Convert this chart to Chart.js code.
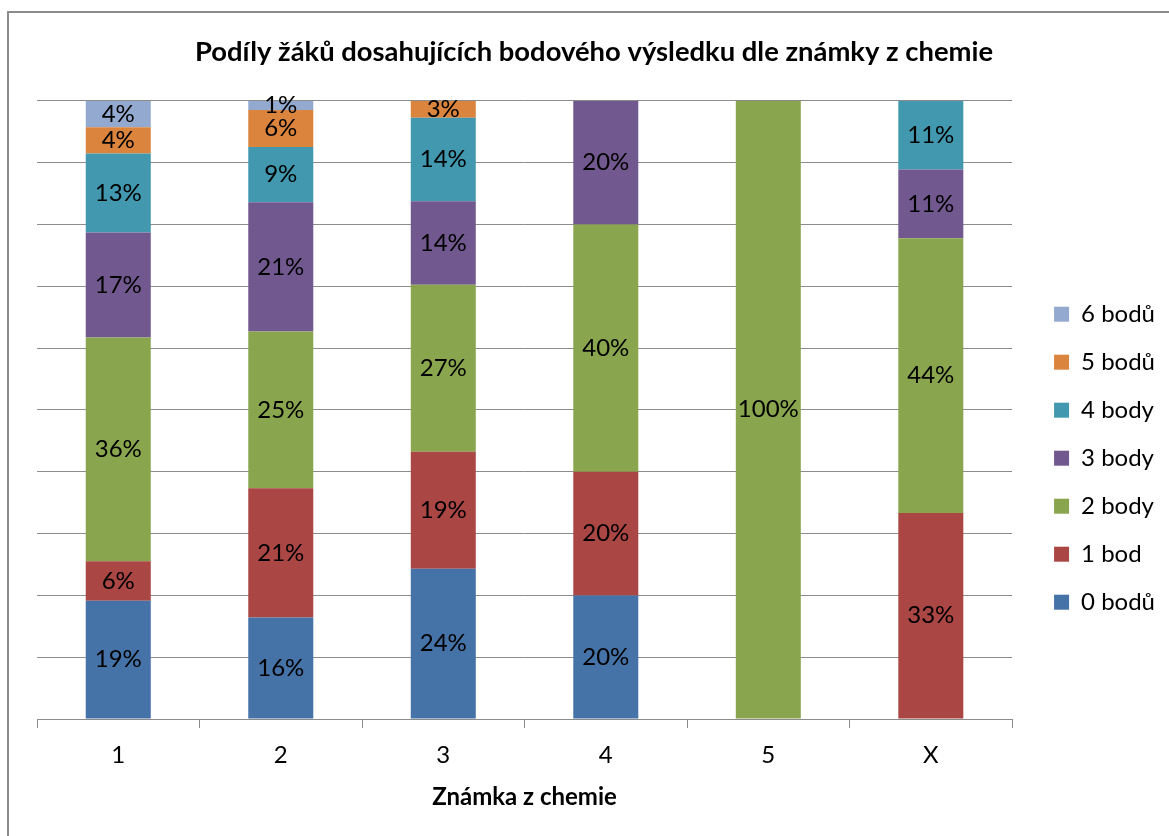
<!DOCTYPE html>
<html lang="cs">
<head>
  <meta charset="UTF-8" />
  <title>Podíly žáků</title>
  <style>
    body { margin: 0; background: #ffffff; }
    #wrap { width: 1169px; height: 836px; }
  </style>
</head>
<body>
  <div id="wrap"><canvas id="chart" width="1169" height="836"></canvas></div>
  <script src="https://cdn.jsdelivr.net/npm/chart.js"></script>
  <script>
    // categories = grade in chemistry
    const grades = ["1", "2", "3", "4", "5", "X"];

    // share of pupils (%) per points scored, one array per grade column
    const body0 = [19.15, 16.42, 24.32, 20, 0, 0];
    const body1 = [6.38, 20.90, 18.92, 20, 0, 33.33];
    const body2 = [36.17, 25.37, 27.03, 40, 100, 44.44];
    const body3 = [17.02, 20.90, 13.51, 20, 0, 11.11];
    const body4 = [12.77, 8.96, 13.51, 0, 0, 11.11];
    const body5 = [4.26, 5.97, 2.70, 0, 0, 0];
    const body6 = [4.26, 1.49, 0, 0, 0, 0];

    const seriesNames = ["0 bodů", "1 bod", "2 body", "3 body", "4 body", "5 bodů", "6 bodů"];
    const seriesData = [body0, body1, body2, body3, body4, body5, body6];
    const colors = ["#4572A7", "#AA4643", "#89A54E", "#71588F", "#4198AF", "#DB843D", "#93A9CF"];

    const fontName = "Lato, 'Open Sans', sans-serif";

    // white background + grey frame like the office chart
    const frame = {
      id: "frame",
      beforeDraw(chart) {
        const ctx = chart.ctx;
        ctx.save();
        ctx.fillStyle = "#ffffff";
        ctx.fillRect(0, 0, chart.width, chart.height);
        ctx.strokeStyle = "#8c8c8c";
        ctx.lineWidth = 2;
        ctx.strokeRect(8, 12, chart.width + 50, chart.height + 50);
        ctx.restore();
      }
    };

    // percent labels in the middle of every segment
    const segLabels = {
      id: "segLabels",
      afterDatasetsDraw(chart) {
        const ctx = chart.ctx;
        ctx.save();
        ctx.font = "24px " + fontName;
        ctx.fillStyle = "#000000";
        ctx.textAlign = "center";
        ctx.textBaseline = "middle";
        chart.data.datasets.forEach((ds, i) => {
          const meta = chart.getDatasetMeta(i);
          meta.data.forEach((bar, j) => {
            const v = ds.data[j];
            if (!v) return;
            ctx.fillText(Math.round(v) + "%", bar.x, (bar.y + bar.base) / 2);
          });
        });
        ctx.restore();
      }
    };

    const datasets = seriesNames.map((name, i) => ({
      label: name,
      data: seriesData[i],
      backgroundColor: colors[i],
      borderWidth: 0,
      barPercentage: 0.4,
      categoryPercentage: 1.0
    }));

    new Chart(document.getElementById("chart"), {
      type: "bar",
      data: { labels: grades, datasets: datasets },
      plugins: [frame, segLabels],
      options: {
        responsive: false,
        animation: false,
        layout: { padding: { left: 23, right: 4, top: 0, bottom: 24 } },
        plugins: {
          title: {
            display: true,
            text: "Podíly žáků dosahujících bodového výsledku dle známky z chemie",
            color: "#000000",
            font: { family: fontName, size: 27.4, weight: "bold" },
            padding: { top: 36, bottom: 32 }
          },
          legend: {
            position: "right",
            reverse: true,
            title: { display: true, text: "", padding: { top: 90, bottom: 0 } },
            labels: {
              color: "#000000",
              font: { family: fontName, size: 24 },
              boxWidth: 15,
              boxHeight: 15,
              padding: 24
            }
          },
          tooltip: { enabled: false }
        },
        scales: {
          x: {
            stacked: true,
            grid: { offset: true, drawOnChartArea: false, drawTicks: true, tickLength: 9, color: "#8c8c8c" },
            border: { display: true, color: "#8c8c8c", width: 1 },
            ticks: { color: "#000000", font: { family: fontName, size: 24 }, padding: 12.5 },
            title: {
              display: true,
              text: "Známka z chemie",
              color: "#000000",
              font: { family: fontName, size: 24, weight: "bold" },
              padding: { top: 1.4, bottom: 0 }
            }
          },
          y: {
            stacked: true,
            position: "left",
            min: 0,
            max: 100,
            ticks: { display: false, stepSize: 10 },
            grid: { drawTicks: false, color: "#8c8c8c" },
            border: { display: false },
            afterFit(scale) { scale.width = 14; }
          },
          // empty gap between plot and legend
          gap: {
            type: "linear",
            position: "right",
            ticks: { display: false },
            grid: { display: false },
            border: { display: false },
            afterFit(scale) { scale.width = 18; }
          }
        }
      }
    });
  </script>
</body>
</html>
